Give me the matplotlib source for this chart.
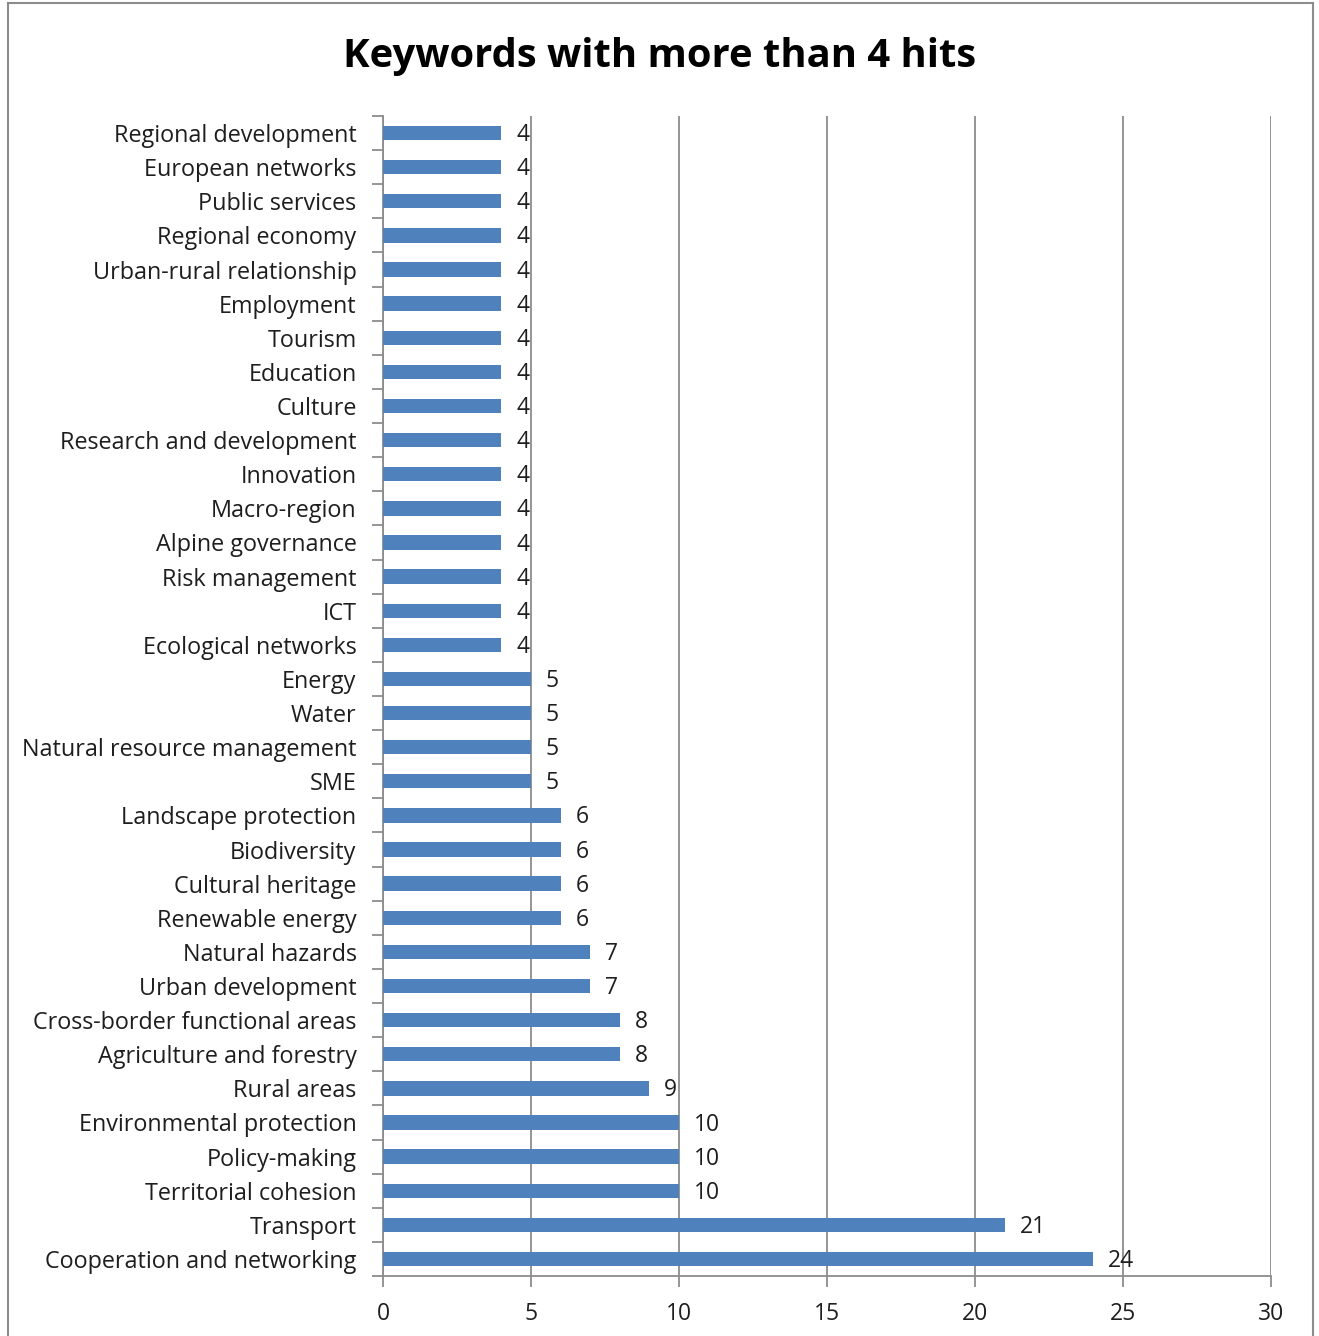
import matplotlib
matplotlib.use("Agg")
import matplotlib.pyplot as plt
from matplotlib.lines import Line2D
import numpy as np

categories = [
    "Regional development", "European networks", "Public services", "Regional economy",
    "Urban-rural relationship", "Employment", "Tourism", "Education", "Culture",
    "Research and development", "Innovation", "Macro-region", "Alpine governance",
    "Risk management", "ICT", "Ecological networks", "Energy", "Water",
    "Natural resource management", "SME", "Landscape protection", "Biodiversity",
    "Cultural heritage", "Renewable energy", "Natural hazards", "Urban development",
    "Cross-border functional areas", "Agriculture and forestry", "Rural areas",
    "Environmental protection", "Policy-making", "Territorial cohesion", "Transport",
    "Cooperation and networking",
]
values = [4, 4, 4, 4, 4, 4, 4, 4, 4, 4, 4, 4, 4, 4, 4, 4,
          5, 5, 5, 5, 6, 6, 6, 6, 7, 7, 8, 8, 9, 10, 10, 10, 21, 24]
xticks = [0, 5, 10, 15, 20, 25, 30]
title = "Keywords with more than 4 hits"

plt.rcParams['font.family'] = ['Open Sans', 'DejaVu Sans']

W, H = 1319, 1336
fig = plt.figure(figsize=(W / 100, H / 100), dpi=100)
ax = fig.add_axes([383 / W, 1 - 1276 / H, (1271 - 383) / W, (1276 - 116) / H])

bar_color = "#4F81BD"
grid_color = "#8C8C8C"
text_color = "#1E1E1E"
n = len(categories)
y = np.arange(n)
ax.barh(y, values, height=0.42, color=bar_color, zorder=3)
ax.set_ylim(n - 0.5, -0.5)
ax.set_xlim(0, 30)
ax.set_xticks(xticks)
ax.set_xticklabels([str(t) for t in xticks], fontsize=16.5, color=text_color)
ax.xaxis.grid(True, color=grid_color, linewidth=1.3, zorder=0)

ax.set_yticks(np.arange(-0.5, n, 1.0), minor=False)
ax.set_yticklabels([])
ax.set_yticks(y, minor=True)
ax.set_yticklabels(categories, minor=True, fontsize=16.8, color=text_color)
ax.tick_params(axis='y', which='major', length=8, width=1.3, color=grid_color, direction='out')
ax.tick_params(axis='y', which='minor', length=0, pad=19)
ax.tick_params(axis='x', length=8, width=1.3, color=grid_color, direction='out', pad=11)

for s in ["top", "right"]:
    ax.spines[s].set_visible(False)
for s in ["left", "bottom"]:
    ax.spines[s].set_color(grid_color)
    ax.spines[s].set_linewidth(1.3)

for yi, v in zip(y, values):
    ax.text(v + 0.5, yi + 0.06, str(v), va='center', ha='left', fontsize=16.5, color=text_color, zorder=4)

fig.text(660 / W, 1 - 56 / H, title, ha='center', va='center', fontsize=28.8, fontweight='bold', color="black")

xl, xr, yt = 8 / W, 1313 / W, 1 - 3 / H
for xs, ys in [([xl, xl], [0, yt]), ([xl, xr], [yt, yt]), ([xr, xr], [yt, 0])]:
    fig.add_artist(Line2D(xs, ys, transform=fig.transFigure, color="#8C8C8C", linewidth=1.5))

fig.savefig("out.png", dpi=100)
